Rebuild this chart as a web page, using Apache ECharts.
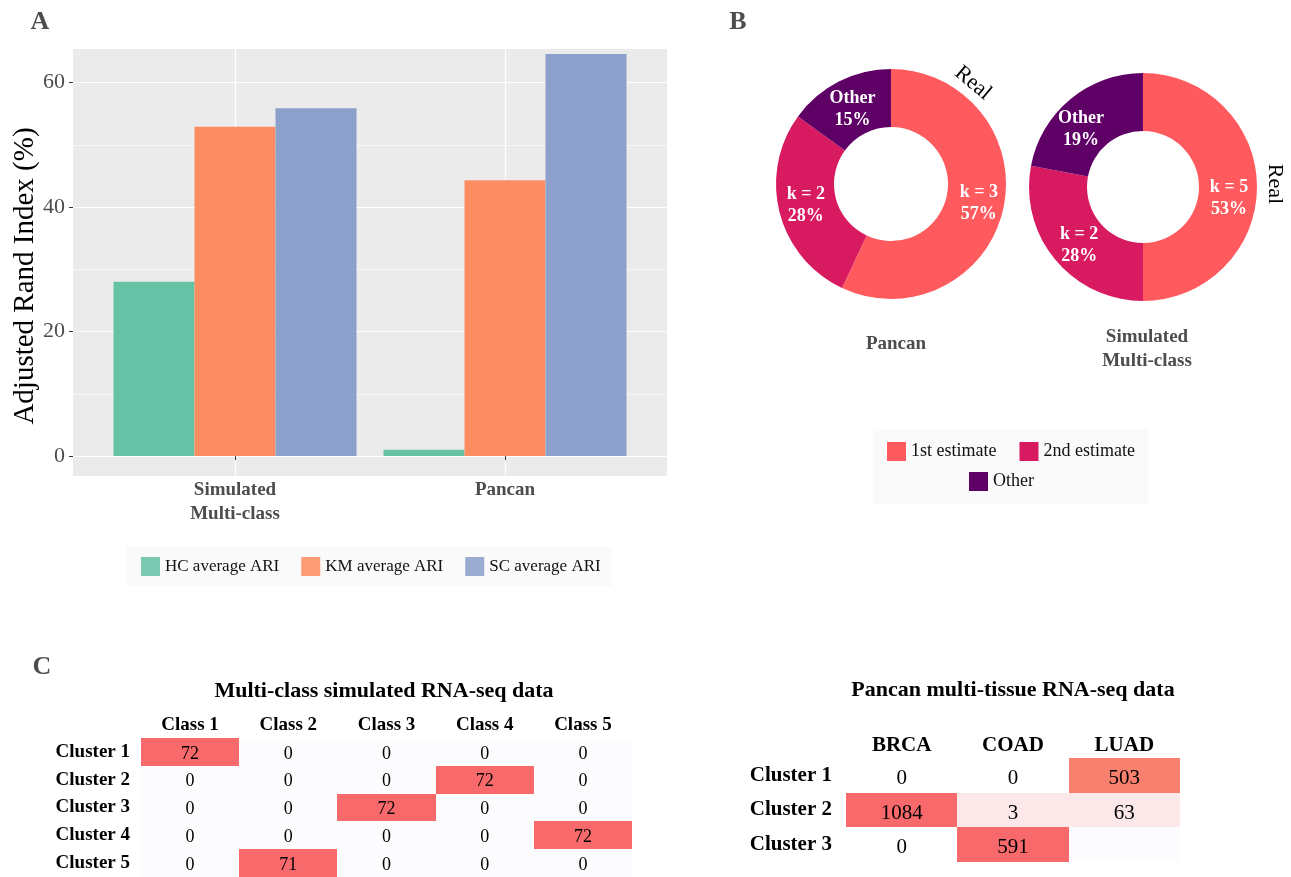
<!DOCTYPE html>
<html>
<head>
<meta charset="utf-8">
<script src="https://cdn.jsdelivr.net/npm/echarts@6/dist/echarts.min.js"></script>
<style>
html,body{margin:0;padding:0;background:#fff;}
#chart{width:1291px;height:877px;}
</style>
</head>
<body>
<div id="chart"></div>
<script>
// ---------- Panel A data ----------
const barCategories = ['Simulated\nMulti-class', 'Pancan'];
const barSeriesNames = ['HC average ARI', 'KM average ARI', 'SC average ARI'];
const hcValues = [28.0, 1.0];
const kmValues = [52.9, 44.3];
const scValues = [55.9, 64.6];
const yTickValues = [0, 20, 40, 60];
const yMinorValues = [10, 30, 50];

// ---------- Panel B data ----------
const pieNames = ['1st estimate', '2nd estimate', 'Other'];
const pancanShares = [57, 28, 15];
const pancanKLabels = ['k = 3', 'k = 2', 'Other'];
const pancanPctLabels = ['57%', '28%', '15%'];
const simShares = [50, 28, 22];
const simKLabels = ['k = 5', 'k = 2', 'Other'];
const simPctLabels = ['53%', '28%', '19%'];

// ---------- Panel C data ----------
const leftCols = ['Class 1', 'Class 2', 'Class 3', 'Class 4', 'Class 5'];
const leftRows = ['Cluster 1', 'Cluster 2', 'Cluster 3', 'Cluster 4', 'Cluster 5'];
const leftMatrix = [
  [72, 0, 0, 0, 0],
  [0, 0, 0, 72, 0],
  [0, 0, 72, 0, 0],
  [0, 0, 0, 0, 72],
  [0, 71, 0, 0, 0]
];
const rightCols = ['BRCA', 'COAD', 'LUAD'];
const rightRows = ['Cluster 1', 'Cluster 2', 'Cluster 3'];
const rightMatrix = [
  [0, 0, 503],
  [1084, 3, 63],
  [0, 591, null]
];

// ---------- styles ----------
const SERIF = '"Liberation Serif", "Times New Roman", serif';
const barColors = ['#66C2A5', '#FC8D62', '#8DA0CB'];
const pieColors = ['#FF5A5E', '#D81A60', '#5F0066'];
const pancanLabelOffsets = [[1, 0], [1, -1], [2, 5]];
const simLabelOffsets = [[-2, 11], [4, 2], [-6, 10]];

function toPairs(vals) { return vals.map((v, i) => [i + 1, v]); }
function matrixData(m) {
  const out = [];
  m.forEach((row, r) => row.forEach((v, c) => out.push([c, r, v === null ? '-' : v])));
  return out;
}
function leftFill(v) { return v > 0 ? '#F8696B' : '#FCFCFF'; }
function rightFill(v) {
  if (isNaN(v)) return '#FCFCFF';
  if (v === 0) return '#FFFFFF';
  if (v < 100) return '#FDE8E9';
  if (v < 550) return '#F7806E';
  return '#F8696B';
}
function cellRenderer(fillFn, fontSize, dy) {
  return function (params, api) {
    const v = api.value(2);
    const c = api.coord([api.value(0), api.value(1)]);
    const s = api.size([1, 1]);
    const x0 = Math.round(c[0] - s[0] / 2), x1 = Math.round(c[0] + s[0] / 2);
    const y0 = Math.round(c[1] - s[1] / 2), y1 = Math.round(c[1] + s[1] / 2);
    const children = [{
      type: 'rect',
      shape: { x: x0, y: y0, width: x1 - x0, height: y1 - y0 },
      style: { fill: fillFn(v) }
    }];
    if (!isNaN(v)) {
      children.push({
        type: 'text',
        style: {
          text: String(v), x: c[0], y: c[1] + dy, align: 'center', verticalAlign: 'middle',
          font: fontSize + 'px ' + SERIF, fill: '#000'
        }
      });
    }
    return { type: 'group', children: children };
  };
}
function pieLabel(kLabels, pctLabels) {
  return function (p) { return kLabels[p.dataIndex] + '\n' + pctLabels[p.dataIndex]; };
}
function pieData(shares, offsets) {
  return shares.map((v, i) => ({
    name: pieNames[i], value: v, itemStyle: { color: pieColors[i] },
    label: { offset: offsets[i] }
  }));
}
function txt(text, x, y, font, fill, rotation) {
  return {
    type: 'text', x: x, y: y, rotation: rotation || 0, silent: true,
    style: { text: text, font: font, fill: fill, align: 'center', verticalAlign: 'middle' }
  };
}

const chart = echarts.init(document.getElementById('chart'), null, { renderer: 'canvas' });

const pieLabelStyle = {
  position: 'inside', color: '#fff', fontFamily: SERIF, fontWeight: 'bold', fontSize: 18, lineHeight: 22
};

const option = {
  animation: false,
  backgroundColor: '#ffffff',
  textStyle: { fontFamily: SERIF },
  grid: [
    { left: 73, top: 49, width: 594, height: 427, show: true, backgroundColor: '#EBEBEB', borderWidth: 0 },
    { left: 141, top: 738, width: 491, height: 139, show: false },
    { left: 846, top: 758, width: 334, height: 104, show: false }
  ],
  xAxis: [
    {
      gridIndex: 0, type: 'value', min: 0.4, max: 2.6,
      axisLine: { show: false },
      axisTick: { show: true, length: 4, lineStyle: { color: '#333', width: 1 }, customValues: [1, 2] },
      axisLabel: {
        customValues: [1, 2],
        formatter: v => barCategories[Math.round(v) - 1],
        fontFamily: SERIF, fontWeight: 'bold', fontSize: 19, color: '#4D4D4D', lineHeight: 24, margin: 2
      },
      splitLine: { show: true, lineStyle: { color: '#FFFFFF', width: 1.2 } }
    },
    {
      gridIndex: 1, type: 'category', data: leftCols, position: 'top',
      axisLine: { show: false }, axisTick: { show: false }, splitLine: { show: false },
      axisLabel: { interval: 0, fontFamily: SERIF, fontWeight: 'bold', fontSize: 19, color: '#000', margin: 3 }
    },
    {
      gridIndex: 2, type: 'category', data: rightCols, position: 'top',
      axisLine: { show: false }, axisTick: { show: false }, splitLine: { show: false },
      axisLabel: { interval: 0, fontFamily: SERIF, fontWeight: 'bold', fontSize: 21, color: '#000', margin: 2 }
    }
  ],
  yAxis: [
    {
      gridIndex: 0, type: 'value', min: -3.2, max: 65.4,
      axisLine: { show: false },
      axisTick: { show: true, length: 4, lineStyle: { color: '#333', width: 1 }, customValues: yTickValues },
      axisLabel: { customValues: yTickValues, fontFamily: SERIF, fontSize: 22, color: '#4D4D4D', margin: 8 },
      splitLine: { show: true, lineStyle: { color: '#FFFFFF', width: 1.2 } }
    },
    {
      gridIndex: 0, type: 'value', min: -3.2, max: 65.4,
      axisLine: { show: false },
      axisTick: { show: false, customValues: yMinorValues },
      axisLabel: { show: false, customValues: yMinorValues },
      splitLine: { show: true, lineStyle: { color: '#FFFFFF', width: 0.6 } }
    },
    {
      gridIndex: 1, type: 'category', data: leftRows, inverse: true,
      axisLine: { show: false }, axisTick: { show: false }, splitLine: { show: false },
      axisLabel: { interval: 0, fontFamily: SERIF, fontWeight: 'bold', fontSize: 19, color: '#000', margin: 11, padding: [4, 0, 0, 0] }
    },
    {
      gridIndex: 2, type: 'category', data: rightRows, inverse: true,
      axisLine: { show: false }, axisTick: { show: false }, splitLine: { show: false },
      axisLabel: { interval: 0, fontFamily: SERIF, fontWeight: 'bold', fontSize: 21, color: '#000', margin: 14, padding: [6, 0, 0, 0] }
    }
  ],
  legend: [
    {
      data: barSeriesNames.map((n, i) => ({ name: n, itemStyle: { color: barColors[i], opacity: 0.88 } })),
      left: 126, top: 547, padding: [10, 11, 10, 15], backgroundColor: '#FAFAFA',
      itemWidth: 19, itemHeight: 19, itemGap: 22, icon: 'rect', selectedMode: false,
      textStyle: { fontFamily: SERIF, fontSize: 17, color: '#111' }
    },
    {
      data: [pieNames[0], pieNames[1]],
      left: 887, top: 442, padding: 0, itemWidth: 19, itemHeight: 19, itemGap: 23, icon: 'rect', selectedMode: false,
      textStyle: { fontFamily: SERIF, fontSize: 18, color: '#111' }
    },
    {
      data: [pieNames[2]],
      left: 969, top: 472, padding: 0, itemWidth: 19, itemHeight: 19, icon: 'rect', selectedMode: false,
      textStyle: { fontFamily: SERIF, fontSize: 18, color: '#111' }
    }
  ],
  graphic: [
    { type: 'rect', z: -10, silent: true, shape: { x: 873, y: 429, width: 275, height: 75 }, style: { fill: '#FAFAFA' } },
    txt('A', 40, 22, 'bold 26px ' + SERIF, '#4D4D4D'),
    txt('B', 738, 22, 'bold 26px ' + SERIF, '#4D4D4D'),
    txt('C', 42, 667, 'bold 26px ' + SERIF, '#4D4D4D'),
    txt('Adjusted Rand Index (%)', 25, 276, '29px ' + SERIF, '#000', Math.PI / 2),
    txt('Real', 973, 83, '22px ' + SERIF, '#000', -40 * Math.PI / 180),
    txt('Real', 1275, 184, '22px ' + SERIF, '#000', -Math.PI / 2),
    txt('Pancan', 896, 344, 'bold 19px ' + SERIF, '#4D4D4D'),
    txt('Simulated', 1147, 337, 'bold 19px ' + SERIF, '#4D4D4D'),
    txt('Multi-class', 1147, 361, 'bold 19px ' + SERIF, '#4D4D4D'),
    txt('Multi-class simulated RNA-seq data', 384, 691, 'bold 22px ' + SERIF, '#000'),
    txt('Pancan multi-tissue RNA-seq data', 1013, 690, 'bold 22px ' + SERIF, '#000')
  ],
  series: [
    {
      name: barSeriesNames[0], type: 'bar', xAxisIndex: 0, yAxisIndex: 0,
      data: toPairs(hcValues), itemStyle: { color: barColors[0] }, barGap: '0%', barCategoryGap: '10%'
    },
    {
      name: barSeriesNames[1], type: 'bar', xAxisIndex: 0, yAxisIndex: 0,
      data: toPairs(kmValues), itemStyle: { color: barColors[1] }, barGap: '0%', barCategoryGap: '10%'
    },
    {
      name: barSeriesNames[2], type: 'bar', xAxisIndex: 0, yAxisIndex: 0,
      data: toPairs(scValues), itemStyle: { color: barColors[2] }, barGap: '0%', barCategoryGap: '10%'
    },
    {
      name: 'Pancan', type: 'pie', center: [891, 184], radius: [57, 115], startAngle: 90, clockwise: true,
      data: pieData(pancanShares, pancanLabelOffsets), itemStyle: { borderWidth: 0 }, emphasis: { disabled: true },
      label: Object.assign({ formatter: pieLabel(pancanKLabels, pancanPctLabels) }, pieLabelStyle),
      labelLine: { show: false }
    },
    {
      name: 'Simulated Multi-class', type: 'pie', center: [1143, 187], radius: [56, 114], startAngle: 90, clockwise: true,
      data: pieData(simShares, simLabelOffsets), itemStyle: { borderWidth: 0 }, emphasis: { disabled: true },
      label: Object.assign({ formatter: pieLabel(simKLabels, simPctLabels) }, pieLabelStyle),
      labelLine: { show: false }
    },
    {
      type: 'custom', xAxisIndex: 1, yAxisIndex: 2, data: matrixData(leftMatrix),
      renderItem: cellRenderer(leftFill, 18, 2), silent: true
    },
    {
      type: 'custom', xAxisIndex: 2, yAxisIndex: 3, data: matrixData(rightMatrix),
      renderItem: cellRenderer(rightFill, 21, 3), silent: true
    }
  ]
};
chart.setOption(option);
</script>
</body>
</html>
